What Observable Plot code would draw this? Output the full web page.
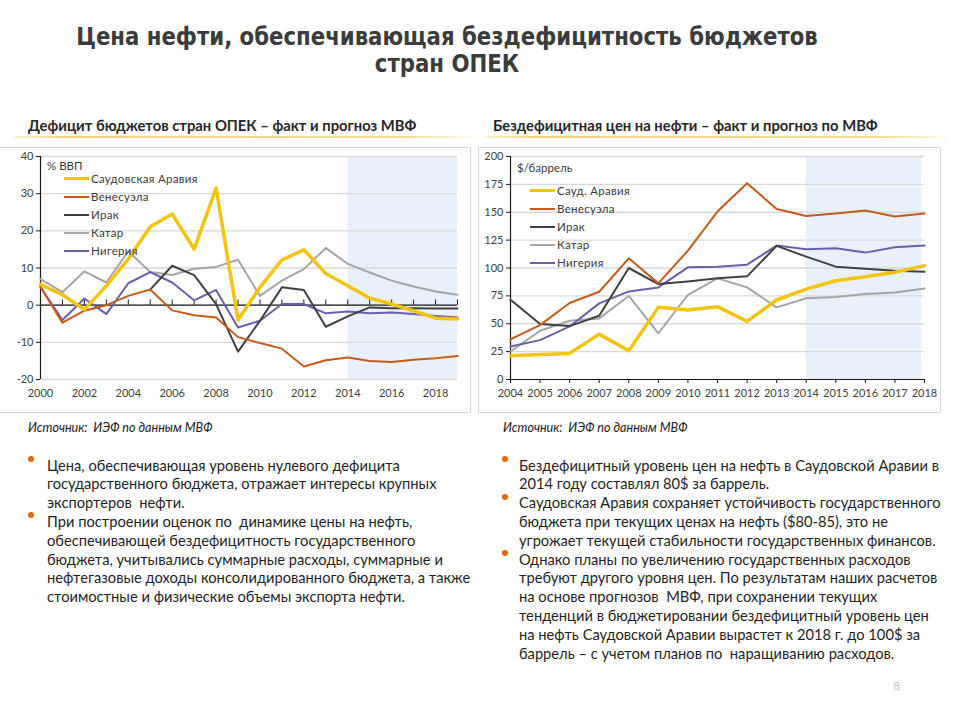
<!DOCTYPE html>
<html><head><meta charset="utf-8">
<script src="https://cdn.jsdelivr.net/npm/d3@7"></script>
<script src="https://cdn.jsdelivr.net/npm/@observablehq/plot@0.6"></script>
<style>
body{margin:0;background:#fff;}
#page{position:relative;width:960px;height:720px;overflow:hidden;background:#fff;font-family:Lato,"Open Sans",sans-serif;color:#262626;}
.title{position:absolute;left:0;width:894px;text-align:center;font-family:"Liberation Sans Narrow","DejaVu Sans Condensed",sans-serif;font-weight:bold;font-size:25px;color:#3b3b3b;line-height:27px;white-space:nowrap;transform:scaleX(0.945);transform-origin:447px 0;}
.hdr{position:absolute;font-family:Lato,sans-serif;font-weight:bold;font-size:14.8px;color:#262626;white-space:nowrap;}
.uline{position:absolute;height:2px;background:linear-gradient(90deg,rgba(242,205,90,0.25),#f2d77e 10%,#f4dc8c 85%,rgba(244,220,140,0.15));}
.panel{position:absolute;border:1px solid #d9d9d9;box-sizing:border-box;}
.chart{position:absolute;}
.src{position:absolute;font-style:italic;font-size:12.6px;color:#1a1a1a;white-space:nowrap;}
.txt{position:absolute;font-size:14.7px;line-height:18.8px;color:#1f1f1f;white-space:nowrap;}
.dot{position:absolute;width:6px;height:6px;border-radius:50%;background:#e46c0a;}
.leg{position:absolute;font-size:11.5px;color:#3a3a3a;white-space:nowrap;letter-spacing:0.3px;line-height:14px;}
.legline{position:absolute;height:0;}
.unit{position:absolute;font-size:11.5px;color:#3a3a3a;white-space:nowrap;line-height:14px;}
.pnum{position:absolute;left:893px;top:678px;font-size:12px;color:#bfbfbf;}
</style></head>
<body><div id="page"></div>
<script>
// ---------- data ----------
const yearsLeft = [2000,2001,2002,2003,2004,2005,2006,2007,2008,2009,2010,2011,2012,2013,2014,2015,2016,2017,2018,2019];
const deficitSaudi   = [5.6,2.8,-1.2,5.2,12.4,21.1,24.5,15.1,31.5,-4.0,4.8,12.2,14.9,8.5,5.2,1.9,0.3,-1.5,-3.5,-3.7];
const deficitVenez   = [4.9,-4.7,-1.5,0.0,2.5,4.2,-1.4,-2.7,-3.3,-8.6,-10.2,-11.7,-16.5,-14.8,-14.1,-15.0,-15.3,-14.7,-14.3,-13.7];
const deficitIraq    = [null,null,null,null,null,4.2,10.6,8.1,0.3,-12.5,-4.2,4.8,4.1,-5.8,-3.0,-0.6,-0.8,-0.8,-0.9,-0.9];
const deficitQatar   = [7.0,3.5,9.1,6.1,14.5,8.9,8.1,9.8,10.3,12.2,2.5,6.6,9.7,15.4,11.1,8.8,6.6,5.0,3.7,2.8];
const deficitNigeria = [4.9,-4.0,1.8,-2.4,5.9,8.9,6.1,1.3,4.1,-6.0,-4.2,0.3,0.3,-2.2,-1.7,-2.2,-2.0,-2.4,-2.9,-3.3];
const yTicksLeft = [-20,-10,0,10,20,30,40];
const xLabelsLeft = [2000,2002,2004,2006,2008,2010,2012,2014,2016,2018];
const forecastLeft = [2014,2019];

const yearsRight = [2004,2005,2006,2007,2008,2009,2010,2011,2012,2013,2014,2015,2016,2017,2018];
const priceSaudi   = [21.3,22.5,23.4,40.7,25.7,64.7,62.3,65.3,52.1,71.3,81.1,88.6,92.2,96.1,102.1];
const priceVenez   = [35.9,48.8,68.6,78.7,108.7,86.2,115.6,150.6,176.0,153.0,146.7,148.8,151.5,146.1,148.8];
const priceIraq    = [71.6,49.7,47.9,57.2,100.0,85.6,88.0,90.7,92.5,119.8,110.2,101.2,99.4,97.6,96.7];
const priceQatar   = [25.1,43.7,52.7,54.8,74.9,41.3,76.0,90.7,82.6,64.7,72.8,74.0,76.6,78.1,81.7];
const priceNigeria = [29.6,35.3,47.6,68.3,79.0,82.6,100.6,101.2,103.0,120.1,116.8,117.7,113.8,118.6,120.1];
const yTicksRight = [0,25,50,75,100,125,150,175,200];
const forecastRight = [2014,2017.9];

const namesLeft  = ["Саудовская Аравия","Венесуэла","Ирак","Катар","Нигерия"];
const namesRight = ["Сауд. Аравия","Венесуэла","Ирак","Катар","Нигерия"];
const seriesColors = ["#f2c40f","#c55a1b","#404040","#a5a5a5","#6a5fab"];
const seriesWidths = [3.5,2,2,2,2];
const drawOrder = [3,4,2,1,0];

const titleLines = ["Цена нефти, обеспечивающая бездефицитность бюджетов","стран ОПЕК"];
const headerLeft = "Дефицит бюджетов стран ОПЕК – факт и прогноз МВФ";
const headerRight = "Бездефицитная цен на нефти – факт и прогноз по МВФ";
const sourceText = "Источник:&nbsp; ИЭФ по данным МВФ";
const unitLeft = "% ВВП";
const unitRight = "$/баррель";
const bulletsLeft = [
  ["Цена, обеспечивающая уровень нулевого дефицита","государственного бюджета, отражает интересы крупных","экспортеров&nbsp; нефти."],
  ["При построении оценок по&nbsp; динамике цены на нефть,","обеспечивающей бездефицитность государственного","бюджета, учитывались суммарные расходы, суммарные и","нефтегазовые доходы консолидированного бюджета, а также","стоимостные и физические объемы экспорта нефти."]
];
const bulletsRight = [
  ["Бездефицитный уровень цен на нефть в Саудовской Аравии в","2014 году составлял 80$ за баррель."],
  ["Саудовская Аравия сохраняет устойчивость государственного","бюджета при текущих ценах на нефть ($80-85), это не","угрожает текущей стабильности государственных финансов."],
  ["Однако планы по увеличению государственных расходов","требуют другого уровня цен. По результатам наших расчетов","на основе прогнозов&nbsp; МВФ, при сохранении текущих","тенденций в бюджетировании бездефицитный уровень цен","на нефть Саудовской Аравии вырастет к 2018 г. до 100$ за","баррель – с учетом планов по&nbsp; наращиванию расходов."]
];

const page = document.getElementById("page");
function el(cls, html, css){const d=document.createElement("div");d.className=cls;if(html!=null)d.innerHTML=html;Object.assign(d.style,css||{});page.appendChild(d);return d;}

// ---------- title & headers ----------
titleLines.forEach((t,i)=>el("title",t,{top:(23+i*27)+"px"}));
el("hdr",headerLeft,{left:"28px",top:"116px"});
el("hdr",headerRight,{left:"493px",top:"116px"});
el("uline",null,{left:"14px",top:"136px",width:"458px"});
el("uline",null,{left:"485px",top:"136px",width:"462px"});

// ---------- panels ----------
el("panel",null,{left:"-1px",top:"147px",width:"472px",height:"266px"});
el("panel",null,{left:"478px",top:"147px",width:"463px",height:"266px"});

function mkRows(years, vals){return years.map((y,j)=>({year:y,v:vals[j]})).filter(d=>d.v!=null);}

const leftSeries = [deficitSaudi,deficitVenez,deficitIraq,deficitQatar,deficitNigeria];
const rightSeries = [priceSaudi,priceVenez,priceIraq,priceQatar,priceNigeria];

// Left chart
const leftPlot = Plot.plot({
  width:470, height:265, marginLeft:40, marginRight:13, marginTop:9, marginBottom:33,
  style:{background:"transparent",fontFamily:"Lato, sans-serif",fontSize:"11px",color:"#404040",overflow:"visible"},
  x:{domain:[2000,2019]},
  y:{domain:[-20,40]},
  marks:[
    Plot.rect([forecastLeft],{x1:d=>d[0],x2:d=>d[1],y1:-20,y2:40,fill:"#eaf0f9"}),
    Plot.ruleY(yTicksLeft,{stroke:"#d9d9d9",strokeWidth:1.3}),
    Plot.ruleY([0],{stroke:"#1a1a1a",strokeWidth:1.2}),
    Plot.ruleX(yearsLeft,{x:d=>d,y1:0,y2:1.4,stroke:"#1a1a1a",strokeWidth:1}),
    Plot.ruleX([yearsLeft[0]],{y1:-20,y2:40,stroke:"#1a1a1a",strokeWidth:1.2}),
    ...drawOrder.map(i=>Plot.line(mkRows(yearsLeft,leftSeries[i]),{x:"year",y:"v",stroke:seriesColors[i],strokeWidth:seriesWidths[i],strokeLinejoin:"round"})),
    Plot.axisY({ticks:yTicksLeft,tickSize:4,tickPadding:3,label:null,stroke:"#1a1a1a",tickFormat:d=>String(d)}),
    Plot.axisX({ticks:xLabelsLeft,tickSize:0,tickPadding:10,tickFormat:d=>String(d),label:null})
  ]
});
const lc = el("chart",null,{left:"0px",top:"147px"}); lc.appendChild(leftPlot);

// Right chart
const rightPlot = Plot.plot({
  width:462, height:265, marginLeft:32, marginRight:16, marginTop:9, marginBottom:33,
  style:{background:"transparent",fontFamily:"Lato, sans-serif",fontSize:"11px",color:"#404040",overflow:"visible"},
  x:{domain:[2004,2018]},
  y:{domain:[0,200]},
  marks:[
    Plot.rect([forecastRight],{x1:d=>d[0],x2:d=>d[1],y1:0,y2:200,fill:"#eaf0f9"}),
    Plot.ruleY(yTicksRight,{stroke:"#d9d9d9",strokeWidth:1.3}),
    Plot.ruleY([0],{stroke:"#1a1a1a",strokeWidth:1.2}),
    Plot.ruleX([yearsRight[0]],{y1:0,y2:200,stroke:"#1a1a1a",strokeWidth:1.2}),
    ...drawOrder.map(i=>Plot.line(mkRows(yearsRight,rightSeries[i]),{x:"year",y:"v",stroke:seriesColors[i],strokeWidth:seriesWidths[i],strokeLinejoin:"round"})),
    Plot.axisY({ticks:yTicksRight,tickSize:4,tickPadding:3,label:null,stroke:"#1a1a1a",tickFormat:d=>String(d)}),
    Plot.axisX({ticks:yearsRight,tickSize:4,tickPadding:6,tickFormat:d=>String(d),label:null,stroke:"#1a1a1a"})
  ]
});
const rc = el("chart",null,{left:"478px",top:"147px"}); rc.appendChild(rightPlot);

// ---------- legends ----------
function legend(names, x0, lineW, yFirst, step, unit, unitX, unitY){
  el("unit",unit,{left:unitX+"px",top:unitY+"px"});
  names.forEach((n,i)=>{
    const y = yFirst + i*step;
    el("legline",null,{left:x0+"px",top:(y - seriesWidths[i]/2)+"px",width:lineW+"px",borderTop:seriesWidths[i]+"px solid "+seriesColors[i]});
    el("leg",n,{left:(x0+lineW+2)+"px",top:(y-7)+"px"});
  });
}
legend(namesLeft,64,25,179,18,unitLeft,47,159);
legend(namesRight,530,25,190.5,18.2,unitRight,517,161);

// ---------- source & bullets ----------
el("src",sourceText,{left:"28px",top:"420px"});
el("src",sourceText,{left:"503px",top:"420px"});
function bullets(groups, xText, xDot, yTop){
  let line=0;
  groups.forEach(g=>{
    el("dot",null,{left:xDot+"px",top:(yTop+line*18.8-9)+"px"});
    g.forEach(t=>{el("txt",t,{left:xText+"px",top:(yTop+line*18.8-9.4)+"px"});line++;});
  });
}
bullets(bulletsLeft,47,28,465);
bullets(bulletsRight,519,502,465);
el("pnum","8");
</script>
</body></html>
